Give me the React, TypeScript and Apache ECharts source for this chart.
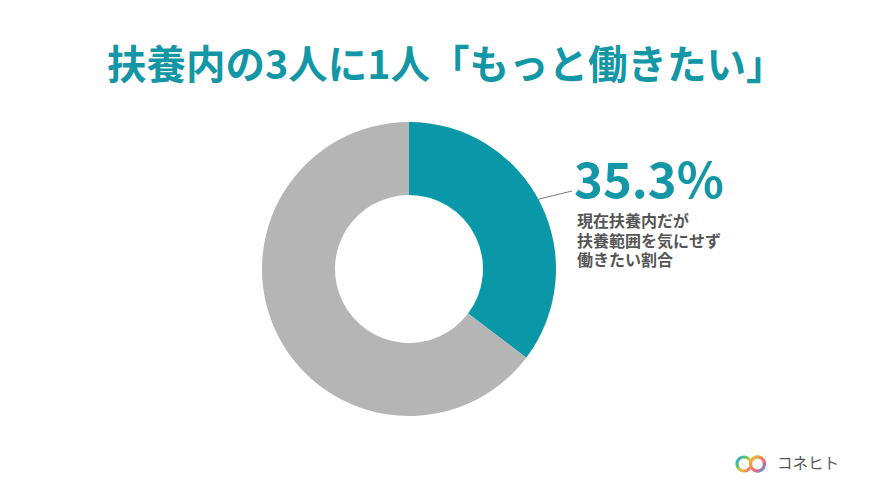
import React, { useEffect, useRef } from "react";
import * as echarts from "echarts";

const TITLE = "扶養内の3人に1人「もっと働きたい」";
const categories = ["もっと働きたい", "その他"];
const values = [35.3, 64.7];
const colors = ["#0A98A8", "#B5B5B5"];
const noteLines = ["現在扶養内だが", "扶養範囲を気にせず", "働きたい割合"];
const BRAND = "コネヒト";

export default function App() {
  const ref = useRef<HTMLDivElement>(null);
  useEffect(() => {
    if (!ref.current) return;
    const chart = echarts.init(ref.current, null, { renderer: "svg" });
    const font = '"Noto Sans CJK JP", "Noto Sans", sans-serif';
    const ringGrad = new echarts.graphic.LinearGradient(0, 0, 1, 1, [
      { offset: 0, color: "#2FA8E0" },
      { offset: 0.35, color: "#5CC36A" },
      { offset: 0.65, color: "#F2C230" },
      { offset: 1, color: "#EE6A8A" },
    ]);
    const ringGrad2 = new echarts.graphic.LinearGradient(0, 0, 1, 1, [
      { offset: 0, color: "#F2C230" },
      { offset: 0.4, color: "#F08A4B" },
      { offset: 0.7, color: "#E9608E" },
      { offset: 1, color: "#2FA8E0" },
    ]);
    chart.setOption({
      animation: false,
      backgroundColor: "#ffffff",
      title: {
        text: TITLE,
        left: 102,
        top: 37,
        padding: 5,
        textStyle: {
          color: "#1397A6",
          fontSize: 39.5,
          fontWeight: "bold",
          fontFamily: font,
        },
      },
      series: [
        {
          type: "pie",
          center: [409, 269],
          radius: [74, 147],
          startAngle: 90,
          clockwise: true,
          label: { show: false },
          labelLine: { show: false },
          silent: true,
          data: categories.map((c, i) => ({
            name: c,
            value: values[i],
            itemStyle: { color: colors[i] },
          })),
        },
      ],
      graphic: [
        {
          type: "line",
          shape: { x1: 523, y1: 203, x2: 572, y2: 191 },
          style: { stroke: "#7A7A7A", lineWidth: 1 },
        },
        {
          type: "text",
          left: 574,
          top: 152,
          style: {
            text: values[0].toFixed(1) + "%",
            fill: "#1397A6",
            font: `bold 49px ${font}`,
          },
        },
        ...noteLines.map((t, i) => ({
          type: "text",
          left: 577,
          top: 211 + i * 19.5,
          style: {
            text: t,
            fill: "#555555",
            font: `bold 16px ${font}`,
            lineHeight: 18,
          },
        })),
        {
          type: "arc",
          shape: { cx: 744, cy: 464, r: 7, startAngle: Math.PI * 0.22, endAngle: Math.PI * 1.78, clockwise: true },
          style: { stroke: ringGrad, lineWidth: 3.2, fill: "none", lineCap: "round" },
        },
        {
          type: "circle",
          shape: { cx: 757.5, cy: 464, r: 7 },
          style: { stroke: ringGrad2, lineWidth: 3.2, fill: "none" },
        },
        {
          type: "text",
          left: 777,
          top: 454,
          style: {
            text: BRAND,
            fill: "#555555",
            font: `15.5px ${font}`,
          },
        },
      ],
    });
    return () => chart.dispose();
  }, []);
  return <div ref={ref} style={{ width: 870, height: 489, margin: -8 }} />;
}
